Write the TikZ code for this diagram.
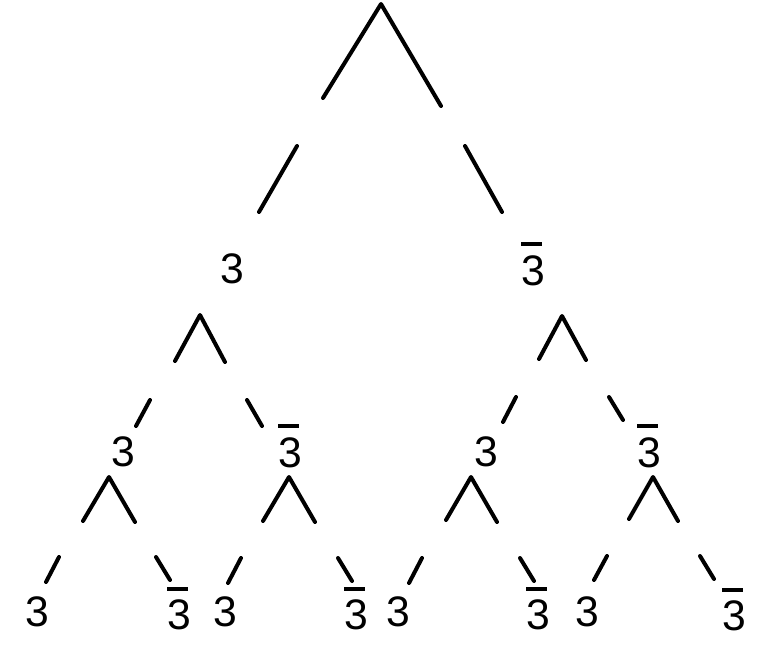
\documentclass[tikz,border=0pt]{standalone}
\usepackage{fontspec}
\setmainfont{Liberation Sans}
\usepackage{tikz}

\newcommand{\threebar}{\vbox{\hrule height 3pt width 15.5pt\kern 6.75pt\hbox{3}}}

\begin{document}
\begin{tikzpicture}[x=0.75pt,y=0.75pt,yscale=-1,xscale=1,
  arm/.style={line width=3pt, line cap=round, line join=round},
  rep/.style={font=\fontsize{32}{32}\selectfont, inner sep=0pt, text height=26pt, text depth=3.1pt}]
\useasboundingbox (0,0) rectangle (777,667);

%Apex points
\coordinate (top) at (381,4);
\coordinate (vl) at (200,315);
\coordinate (vr) at (562,316);
\coordinate (vll) at (109,477);
\coordinate (vlr) at (289,477);
\coordinate (vrl) at (471,477);
\coordinate (vrr) at (653,477);

%Top vertex
\draw [arm] (top) ++(-58,94) -- (top) -- ++(60,102) ;
%Straight Lines
\draw [arm] (top) ++(-84,142) -- ++(-38,66) ;
%Straight Lines
\draw [arm] (top) ++(84,142) -- ++(37,66) ;

%Second level, left
\draw [arm] (vl) ++(-25,46) -- (vl) -- ++(25,47) ;
%Straight Lines
\draw [arm] (vl) ++(-50,85) -- ++(-14,26) ;
%Straight Lines
\draw [arm] (vl) ++(47,85) -- ++(15,26) ;

%Second level, right
\draw [arm] (vr) ++(-23,43) -- (vr) -- ++(24,44) ;
%Straight Lines
\draw [arm] (vr) ++(-46,81) -- ++(-13,25) ;
%Straight Lines
\draw [arm] (vr) ++(47,81) -- ++(14,23) ;

%Third level
\draw [arm] (vll) ++(-26,44) -- (vll) -- ++(26,45) ;
\draw [arm] (vll) ++(-50,80) -- ++(-13,25) ;
\draw [arm] (vll) ++(47,80) -- ++(14,23) ;
%Third level
\draw [arm] (vlr) ++(-26,44) -- (vlr) -- ++(26,45) ;
\draw [arm] (vlr) ++(-48,81) -- ++(-13,25) ;
\draw [arm] (vlr) ++(49,81) -- ++(14,23) ;
%Third level
\draw [arm] (vrl) ++(-25,43) -- (vrl) -- ++(26,45) ;
\draw [arm] (vrl) ++(-49,81) -- ++(-13,25) ;
\draw [arm] (vrl) ++(49,81) -- ++(14,23) ;
%Third level
\draw [arm] (vrr) ++(-24,42) -- (vrr) -- ++(25,44) ;
\draw [arm] (vrr) ++(-46,79) -- ++(-13,24) ;
\draw [arm] (vrr) ++(47,79) -- ++(14,23) ;

% Text Node
\node [rep] (t3) at (232,268) {3};
% Text Node
\node [rep] (t3b) at (533,270) {\threebar};
% Text Node
\node [rep] (l3) at (123,451) {3};
% Text Node
\node [rep] (l3b) at (290,452) {\threebar};
% Text Node
\node [rep] (r3) at (486,451) {3};
% Text Node
\node [rep] (r3b) at (649,452) {\threebar};
% Text Node
\node [rep] (ll3) at (37,611) {3};
% Text Node
\node [rep] (ll3b) at (179,614.5) {\threebar};
% Text Node
\node [rep] (lr3) at (225,611) {3};
% Text Node
\node [rep] (lr3b) at (356,614.5) {\threebar};
% Text Node
\node [rep] (rl3) at (398,611) {3};
% Text Node
\node [rep] (rl3b) at (538,614.5) {\threebar};
% Text Node
\node [rep] (rr3) at (587,611) {3};
% Text Node
\node [rep] (rr3b) at (734,615.5) {\threebar};

\end{tikzpicture}
\end{document}
